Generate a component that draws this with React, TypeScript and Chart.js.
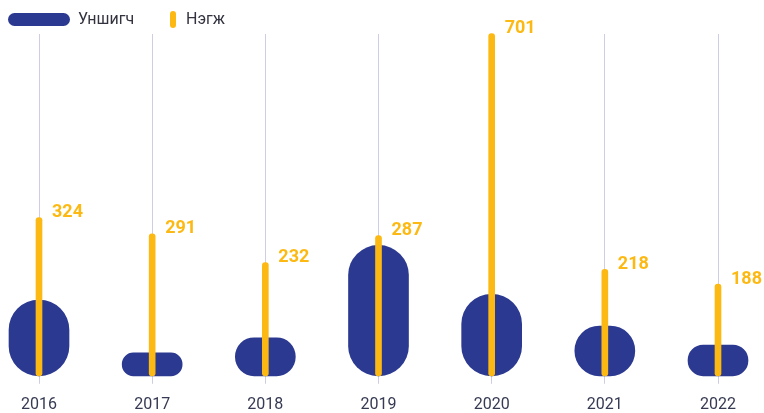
import React, { useEffect, useRef } from "react";
import { Chart, registerables } from "chart.js";

Chart.register(...registerables);

const years = ["2016", "2017", "2018", "2019", "2020", "2021", "2022"];
const readers = [155, 47, 78, 267, 167, 102, 63];
const units = [324, 291, 232, 287, 701, 218, 188];
const seriesNames = ["Уншигч", "Нэгж"];
const seriesColors = ["#2b3990", "#fdb913"];
const yMax = 700;

const FONT = "Roboto, 'Noto Sans', sans-serif";

const overlayPlugin = {
  id: "overlay",
  afterDatasetsDraw(chart: any) {
    const ctx = chart.ctx;
    const meta = chart.getDatasetMeta(1);
    ctx.save();
    ctx.fillStyle = seriesColors[1];
    ctx.font = `bold 18px ${FONT}`;
    ctx.textAlign = "left";
    ctx.textBaseline = "middle";
    meta.data.forEach((el: any, i: number) => {
      ctx.fillText(String(units[i]), el.x + 13, el.y - 5);
    });
    ctx.restore();

    ctx.save();
    ctx.fillStyle = seriesColors[0];
    ctx.beginPath();
    ctx.roundRect(8, 13, 62, 13, 6.5);
    ctx.fill();
    ctx.fillStyle = seriesColors[1];
    ctx.beginPath();
    ctx.roundRect(170, 11, 6, 17, 3);
    ctx.fill();
    ctx.fillStyle = "#333340";
    ctx.font = `16px ${FONT}`;
    ctx.textBaseline = "middle";
    ctx.textAlign = "left";
    ctx.fillText(seriesNames[0], 78, 20);
    ctx.fillText(seriesNames[1], 186, 20);
    ctx.restore();
  },
};

export default function App() {
  const ref = useRef<HTMLCanvasElement | null>(null);

  useEffect(() => {
    if (!ref.current) return;
    const chart = new Chart(ref.current, {
      type: "bar",
      data: {
        labels: years,
        datasets: [
          {
            label: seriesNames[0],
            data: readers,
            backgroundColor: seriesColors[0],
            barThickness: 60,
            borderRadius: 100,
            borderSkipped: false,
            grouped: false,
            order: 1,
            clip: false as any,
          },
          {
            label: seriesNames[1],
            data: units,
            backgroundColor: seriesColors[1],
            barThickness: 6,
            borderRadius: 3,
            borderSkipped: false,
            grouped: false,
            order: 0,
            clip: false as any,
          },
        ],
      },
      options: {
        animation: false,
        responsive: true,
        maintainAspectRatio: false,
        layout: { padding: { left: 39, right: 46, top: 34, bottom: -14 } },
        plugins: {
          legend: { display: false },
          tooltip: { enabled: false },
        },
        scales: {
          x: {
            offset: false,
            grid: {
              offset: false,
              color: "#cdcde4",
              lineWidth: 1,
              tickLength: 8,
              drawTicks: true,
            },
            border: { display: false },
            ticks: {
              color: "#363a52",
              font: { family: FONT, size: 16 },
              padding: 12,
              maxRotation: 0,
            },
          },
          y: {
            display: false,
            min: 0,
            max: yMax,
          },
        },
      },
      plugins: [overlayPlugin],
    });
    return () => chart.destroy();
  }, []);

  return (
    <div
      style={{
        position: "fixed",
        left: 0,
        top: 0,
        width: 764,
        height: 413,
        background: "#ffffff",
      }}
    >
      <canvas ref={ref} />
    </div>
  );
}
